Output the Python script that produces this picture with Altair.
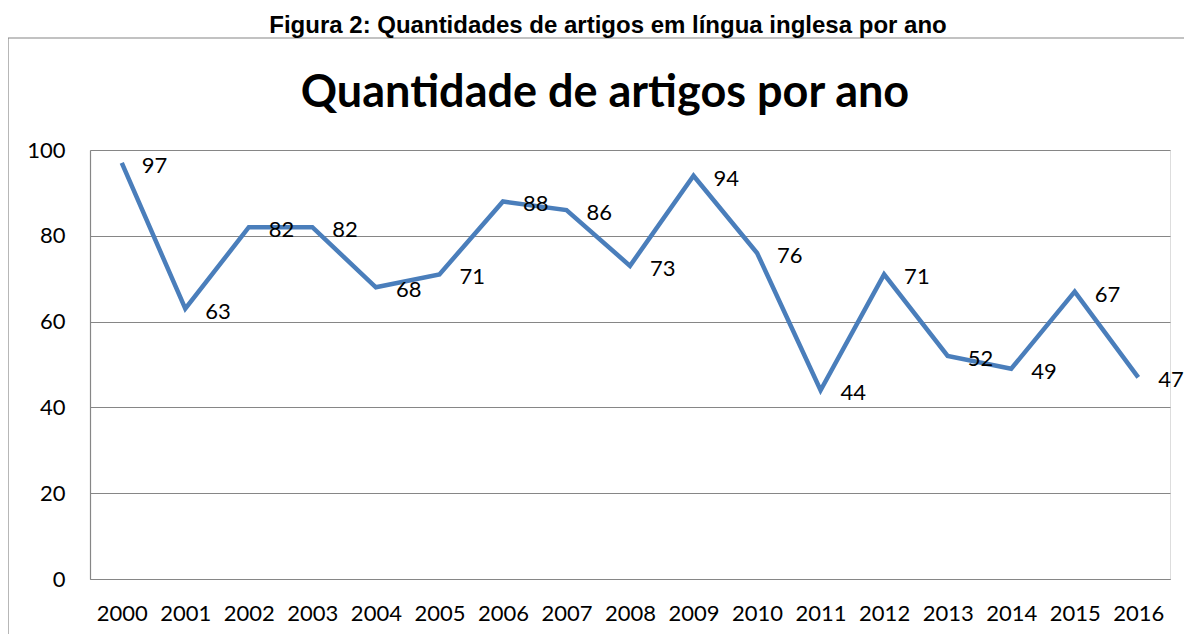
import altair as alt
import pandas as pd

years = ["2000", "2001", "2002", "2003", "2004", "2005", "2006", "2007", "2008",
         "2009", "2010", "2011", "2012", "2013", "2014", "2015", "2016"]
counts = [97, 63, 82, 82, 68, 71, 88, 86, 73, 94, 76, 44, 71, 52, 49, 67, 47]

caption = "Figura 2: Quantidades de artigos em língua inglesa por ano"
chart_title = "Quantidade de artigos por ano"

df = pd.DataFrame({"year": years, "count": counts})

GRAY = "#868686"
FONT = "Lato"

x_enc = alt.X("year:O", scale=alt.Scale(type="point", padding=0.5),
              axis=alt.Axis(title=None, labelAngle=0, ticks=False, domainColor=GRAY,
                            domainWidth=1.2, labelFontSize=22, labelFont=FONT,
                            labelColor="#000000", labelPadding=24, grid=False))
y_enc = alt.Y("count:Q", scale=alt.Scale(domain=[0, 100], nice=False),
              axis=alt.Axis(title=None, values=[0, 20, 40, 60, 80, 100], ticks=False,
                            domainColor=GRAY, domainWidth=1.2, gridColor=GRAY,
                            gridWidth=1.2, labelFontSize=22, labelFont=FONT,
                            labelColor="#000000", labelPadding=25))

base = alt.Chart(df)

line = base.mark_line(color="#4A7EBB", strokeWidth=4.5, strokeJoin="miter").encode(
    x=x_enc, y=y_enc)

labels = base.mark_text(align="left", baseline="middle", dx=20, dy=3,
                        fontSize=22, font=FONT, color="#000000").encode(
    x="year:O", y="count:Q", text="count:Q")

single = alt.Data(values=[{"a": 1}])

box_top = alt.Chart(single).mark_rule(color=GRAY, strokeWidth=1.2).encode(
    x=alt.value(-82), x2=alt.value(1200), y=alt.value(-112))
box_left = alt.Chart(single).mark_rule(color=GRAY, strokeWidth=1.2).encode(
    x=alt.value(-82), y=alt.value(-112), y2=alt.value(600))

cap = alt.Chart(single).mark_text(fontSize=24, font="Liberation Sans", fontWeight="bold",
                                  baseline="alphabetic", align="center", color="#000000").encode(
    x=alt.value(518), y=alt.value(-117), text=alt.value(caption))

ttl = alt.Chart(single).mark_text(fontSize=45, font=FONT, fontWeight="bold",
                                  baseline="alphabetic", align="center", color="#000000").encode(
    x=alt.value(515), y=alt.value(-43), text=alt.value(chart_title))

chart = alt.layer(box_top, box_left, line, labels, cap, ttl).properties(
    width=1080, height=429,
    autosize=alt.AutoSizeParams(type="none"),
    padding={"left": 82, "top": 142, "right": 14, "bottom": 55},
).configure_view(stroke=None).configure(background="white")

chart.save("out.html", embed_options={"renderer": "svg", "actions": False})
